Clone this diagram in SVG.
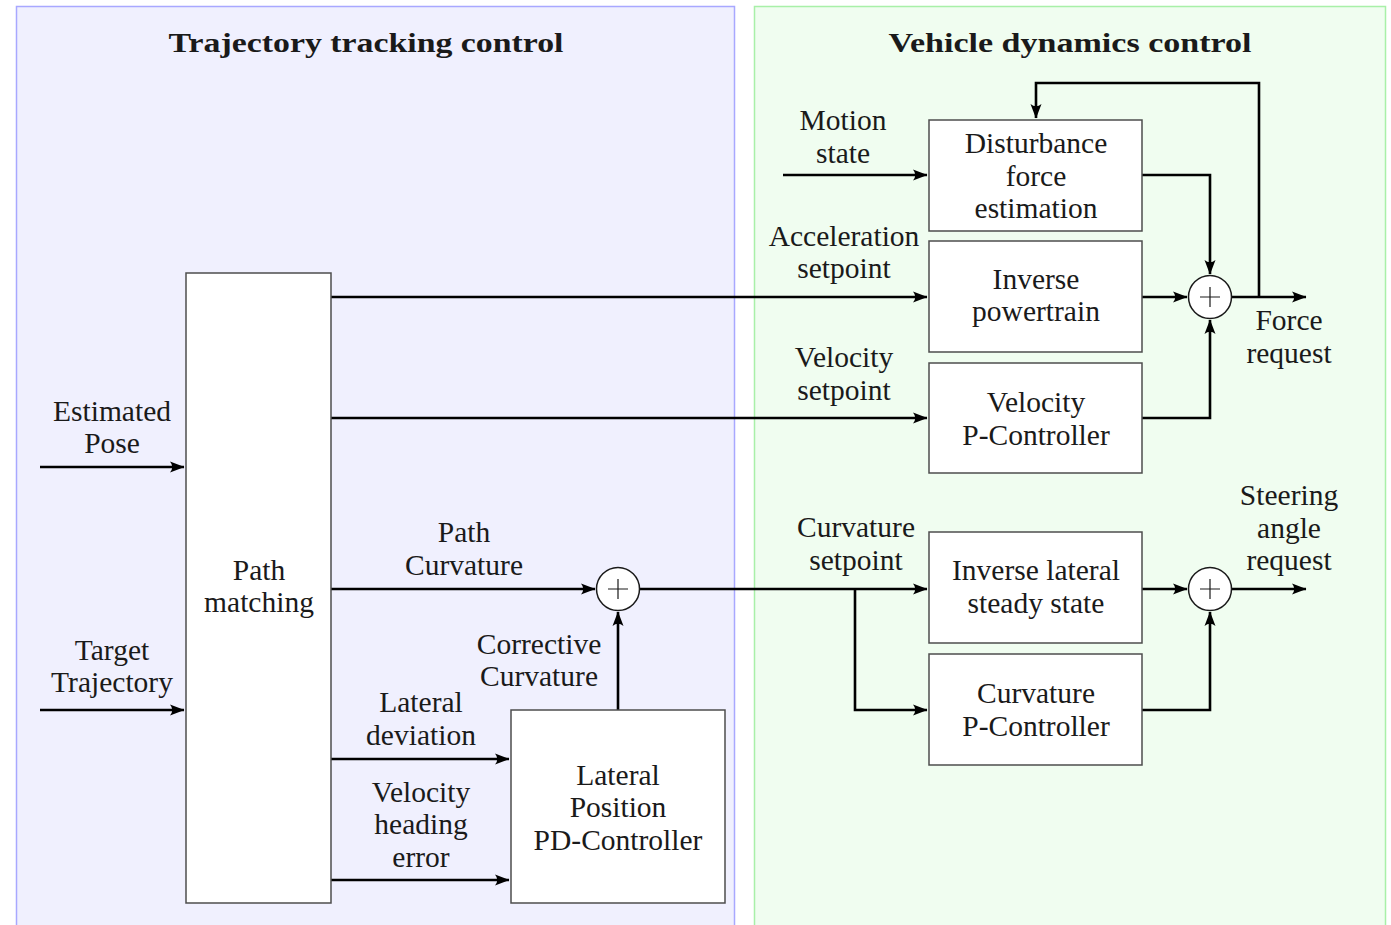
<svg xmlns="http://www.w3.org/2000/svg" width="1391" height="925" viewBox="0 0 1391 925">
<style>
text{font-family:"Liberation Serif","Times New Roman",serif;font-size:29.5px;fill:#1a1a1a;text-anchor:middle}
.title{font-weight:bold;font-size:28px}
.box{fill:#ffffff;stroke:#4d4d4d;stroke-width:1.5}
.sum{fill:#ffffff;stroke:#1a1a1a;stroke-width:1.5}
.plus{stroke:#1a1a1a;stroke-width:1.2}
.wire{fill:none;stroke:#000;stroke-width:2.6}
.arr{marker-end:url(#ah)}
</style>
<defs>
<marker id="ah" viewBox="-15 -7 16 14" refX="0" refY="0" markerWidth="16" markerHeight="14" markerUnits="userSpaceOnUse" orient="auto">
<path d="M0.5,0 L-14,-5.5 Q-9.5,0 -14,5.5 Z" fill="#000"/>
</marker>
</defs>
<g id="panels">
<rect x="16.5" y="6.5" width="718" height="940" fill="#f0f0fe" stroke="#a8a8ff" stroke-width="1.5"/>
<rect x="754.5" y="6.5" width="631" height="940" fill="#f0fdf0" stroke="#a8f0a8" stroke-width="1.5"/>
<text class="title" x="366" y="52" textLength="395" lengthAdjust="spacingAndGlyphs">Trajectory tracking control</text>
<text class="title" x="1070" y="52" textLength="363" lengthAdjust="spacingAndGlyphs">Vehicle dynamics control</text>
</g>
<g id="connectors">
<path class="wire arr" d="M40,467 H184"/>
<path class="wire arr" d="M40,710 H184"/>
<path class="wire arr" d="M331,297 H927"/>
<path class="wire arr" d="M331,418 H927"/>
<path class="wire arr" d="M331,589 H595"/>
<path class="wire arr" d="M331,759 H509"/>
<path class="wire arr" d="M331,880 H509"/>
<path class="wire arr" d="M618,710 V612"/>
<path class="wire arr" d="M640,589 H927"/>
<path class="wire arr" d="M855,589 V710 H927"/>
<path class="wire arr" d="M783,175 H927"/>
<path class="wire arr" d="M1142,175 H1210 V274"/>
<path class="wire arr" d="M1142,297 H1187"/>
<path class="wire arr" d="M1142,418 H1210 V320"/>
<path class="wire arr" d="M1231,297 H1306"/>
<path class="wire arr" d="M1259,297 V83 H1036 V118"/>
<path class="wire arr" d="M1142,589 H1187"/>
<path class="wire arr" d="M1142,710 H1210 V612"/>
<path class="wire arr" d="M1231,589 H1306"/>
</g>
<g id="path-matching">
<rect class="box" x="186" y="273" width="145" height="630"/>
<text x="259" y="580">Path</text>
<text x="259" y="612">matching</text>
</g>
<g id="lateral-pd">
<rect class="box" x="511" y="710" width="214" height="193"/>
<text x="618" y="785">Lateral</text>
<text x="618" y="817">Position</text>
<text x="618" y="850">PD-Controller</text>
</g>
<g id="sum-curvature">
<circle class="sum" cx="618" cy="589" r="21.5"/>
<path class="plus" d="M608,589 H628 M618,579 V599"/>
</g>
<g id="disturbance">
<rect class="box" x="929" y="120" width="213" height="111"/>
<text x="1036" y="153">Disturbance</text>
<text x="1036" y="186">force</text>
<text x="1036" y="218">estimation</text>
</g>
<g id="inverse-powertrain">
<rect class="box" x="929" y="241" width="213" height="111"/>
<text x="1036" y="289">Inverse</text>
<text x="1036" y="321">powertrain</text>
</g>
<g id="velocity-p">
<rect class="box" x="929" y="363" width="213" height="110"/>
<text x="1036" y="412">Velocity</text>
<text x="1036" y="445">P-Controller</text>
</g>
<g id="inverse-lateral">
<rect class="box" x="929" y="532" width="213" height="111"/>
<text x="1036" y="580">Inverse lateral</text>
<text x="1036" y="613">steady state</text>
</g>
<g id="curvature-p">
<rect class="box" x="929" y="654" width="213" height="111"/>
<text x="1036" y="703">Curvature</text>
<text x="1036" y="736">P-Controller</text>
</g>
<g id="sum-force">
<circle class="sum" cx="1210" cy="297" r="21.5"/>
<path class="plus" d="M1200,297 H1220 M1210,287 V307"/>
</g>
<g id="sum-steering">
<circle class="sum" cx="1210" cy="589" r="21.5"/>
<path class="plus" d="M1200,589 H1220 M1210,579 V599"/>
</g>
<g id="labels">
<text x="112" y="421">Estimated</text>
<text x="112" y="453">Pose</text>
<text x="112" y="660">Target</text>
<text x="112" y="692">Trajectory</text>
<text x="464" y="542">Path</text>
<text x="464" y="575">Curvature</text>
<text x="539" y="654">Corrective</text>
<text x="539" y="686">Curvature</text>
<text x="421" y="712">Lateral</text>
<text x="421" y="745">deviation</text>
<text x="421" y="802">Velocity</text>
<text x="421" y="834">heading</text>
<text x="421" y="867">error</text>
<text x="843" y="130">Motion</text>
<text x="843" y="163">state</text>
<text x="844" y="246">Acceleration</text>
<text x="844" y="278">setpoint</text>
<text x="844" y="367">Velocity</text>
<text x="844" y="400">setpoint</text>
<text x="856" y="537">Curvature</text>
<text x="856" y="570">setpoint</text>
<text x="1289" y="330">Force</text>
<text x="1289" y="363">request</text>
<text x="1289" y="505">Steering</text>
<text x="1289" y="538">angle</text>
<text x="1289" y="570">request</text>
</g>
</svg>
